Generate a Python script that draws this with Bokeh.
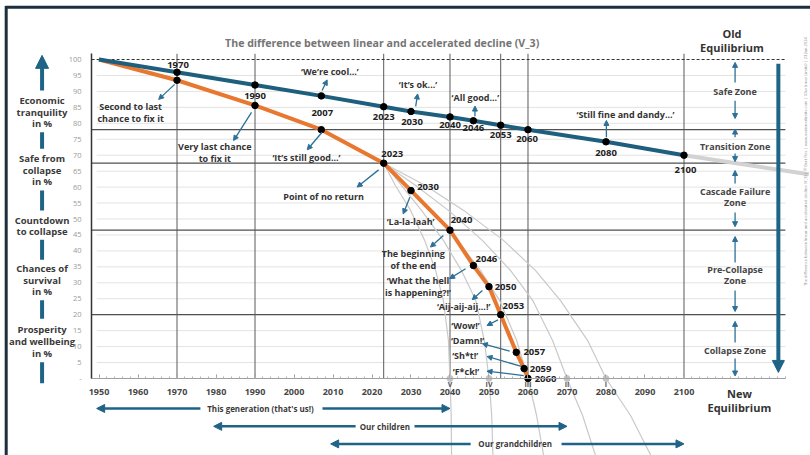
import math
from bokeh.plotting import figure
from bokeh.models import Arrow, NormalHead, LinearAxis, FixedTicker, Range1d
from bokeh.core.properties import value
from bokeh.embed import file_html
from bokeh.resources import INLINE

# ---------------- data ----------------
title_text = "The difference between linear and accelerated decline (V_3)"

linear_years = [1950, 1970, 1990, 2007, 2023, 2030, 2040, 2046, 2053, 2060, 2080, 2100]
linear_values = [100, 96, 92, 88.6, 85.2, 83.7, 82, 80.8, 79.4, 78, 74.2, 70]
linear_tail_years = [2100, 2132]
linear_tail_values = [70, 64]

accel_years = [1950, 1970, 1990, 2007, 2023, 2030, 2040, 2046, 2050, 2053, 2057, 2059, 2060]
accel_values = [100, 93.5, 85.6, 78, 67.5, 58.9, 46.5, 35.4, 28.8, 20, 8.2, 3.1, 0]

scenario_names = ["V", "IV", "III", "II", "I"]
scenario_end_years = [2040, 2050, 2060, 2070, 2080]
scenario_values = [67.5, 60.5, 52.7, 43.3, 33.9, 24.5, 11.9, 0, -11.6, -24.1]
scenario_V_years = [2023, 2026.0, 2029.9, 2033.5, 2036.3, 2038.3, 2039.6, 2040, 2040.3, 2040.4]
scenario_IV_years = [2023, 2027.6, 2032.7, 2038.3, 2042.9, 2046.6, 2048.8, 2050, 2050.7, 2051.0]
scenario_III_years = [2023, 2029.1, 2035.3, 2041.9, 2047.8, 2052.7, 2057.1, 2060, 2062.2, 2064.0]
scenario_II_years = [2023, 2031.2, 2039.6, 2048.3, 2055.5, 2061.2, 2066.3, 2070, 2074.0, 2077.3]
scenario_I_years = [2023, 2033.7, 2043.5, 2053.7, 2061.9, 2068.3, 2075.3, 2080, 2086.3, 2091.5]

y_ticks = [0, 5, 10, 15, 20, 25, 30, 35, 40, 45, 50, 55, 60, 65, 70, 75, 80, 85, 90, 95, 100]
y_tick_labels = {0: "-"}
x_ticks = [1950, 1960, 1970, 1980, 1990, 2000, 2010, 2020, 2030, 2040, 2050, 2060, 2070, 2080, 2090, 2100]
x_minor_ticks = list(range(1950, 2127, 2))

zone_levels = [78, 67.5, 46.5, 20]
milestone_years = [1970, 1990, 2023, 2040, 2053, 2060, 2100]

zone_names = ["Safe Zone", "Transition Zone", "Cascade Failure\nZone", "Pre-Collapse\nZone", "Collapse Zone"]
side_labels = ["Economic\ntranquility\nin %", "Safe from\ncollapse\nin %", "Countdown\nto collapse",
               "Chances of\nsurvival\nin %", "Prosperity\nand wellbeing\nin %"]

generation_labels = ["This generation (that's us!)", "Our children", "Our grandchildren"]
generation_start = [1950, 1980, 2010]
generation_end = [2040, 2070, 2100]

credit_text = ("The difference between linear and accelerated decline (V_3) | \u00a9 Bert Fles | "
               "www.ourinnerlimits.com | (Our Inner Limits) | 23-Jan-2024")

# ---------------- styles ----------------
FONT = "Open Sans"
BLUE = "#1f5f7e"
ORANGE = "#e8782f"
ARROW_BLUE = "#2d7095"
SIDE_BLUE = "#1f6386"
DARK = "#2e2e2e"
GRID = "#e3e3e3"
VLINE = "#5a5a5a"
CURVE = "#c9c9c9"
LH = 0.9

X0, X1 = 1924.74, 2132.44
Y0, Y1 = -24.14, 118.50
PLOT_L, PLOT_R, GRID_L = 1948.1, 2126.0, 1949.4

p = figure(width=810, height=455, x_range=Range1d(X0, X1), y_range=Range1d(Y0, Y1),
           output_backend="svg", toolbar_location=None, min_border=0,
           x_axis_location=None, y_axis_location=None)
p.outline_line_color = None
p.xgrid.visible = False
p.ygrid.visible = False


def add_text(xs, ys, texts, size, color=DARK, style="bold", align="center", baseline="middle",
             angle=0.0, line_height=LH, x_offset=0, y_offset=0):
    p.text(x=list(xs), y=list(ys), text=list(texts), text_font=value(FONT),
           text_font_size=value(size), text_font_style=style, text_color=color,
           text_align=align, text_baseline=baseline, angle=angle,
           text_line_height=line_height, x_offset=x_offset, y_offset=y_offset)


def add_arrow(x0, y0, x1, y1, color=ARROW_BLUE, width=1.3, head=5):
    p.add_layout(Arrow(x_start=x0, y_start=y0, x_end=x1, y_end=y1, line_color=color,
                       line_width=width,
                       end=NormalHead(size=head, fill_color=color, line_color=color, line_width=1)))


# outer border (top and left)
p.line([1926.0, X1], [116.4, 116.4], line_color="#1d2f3c", line_width=3)
p.line([1926.2, 1926.2], [Y0, 116.8], line_color="#1d2f3c", line_width=3)

# light grid
grid_levels = [v for v in y_ticks if 0 < v < 100]
p.segment(x0=GRID_L, y0=grid_levels, x1=PLOT_R, y1=grid_levels, line_color=GRID, line_width=1)

# zone lines and milestone verticals
p.segment(x0=PLOT_L, y0=zone_levels, x1=PLOT_R, y1=zone_levels, line_color="#505050", line_width=1.2)
p.segment(x0=milestone_years, y0=0, x1=milestone_years, y1=101.8, line_color=VLINE, line_width=1)
p.line([PLOT_L, PLOT_R], [100, 100], line_color="#333333", line_width=1, line_dash="3 2")

# scenario curves
for yrs in [scenario_V_years, scenario_IV_years, scenario_III_years, scenario_II_years, scenario_I_years]:
    p.line(yrs, scenario_values, line_color=CURVE, line_width=1.2)
p.scatter(scenario_end_years, [0] * len(scenario_end_years), size=6, color="#c4c4c4")

# linear tail
p.line(linear_tail_years, linear_tail_values, line_color="#d2d2d2", line_width=4)

# main lines
p.line(accel_years, accel_values, line_color=ORANGE, line_width=4)
p.line(linear_years, linear_values, line_color=BLUE, line_width=4)
p.scatter(linear_years[1:], linear_values[1:], size=6.5, color="black")
p.scatter(accel_years[1:], accel_values[1:], size=6.5, color="black")

# axes (inside the frame)
yax = LinearAxis(fixed_location=PLOT_L, bounds=(0, 101.8), ticker=FixedTicker(ticks=y_ticks),
                 major_label_overrides=y_tick_labels)
yax.axis_line_color = "#333333"
yax.axis_line_width = 1.5
yax.major_tick_line_color = None
yax.minor_tick_line_color = None
yax.major_label_text_font = FONT
yax.major_label_text_font_size = "7.5px"
yax.major_label_text_color = "#9a9a9a"
yax.major_label_standoff = 4
p.add_layout(yax, "left")

xax = LinearAxis(fixed_location=0, bounds=(PLOT_L, PLOT_R),
                 ticker=FixedTicker(ticks=x_ticks, minor_ticks=x_minor_ticks))
xax.axis_line_color = "#a0a0a0"
xax.axis_line_width = 1
xax.major_tick_in = 4
xax.major_tick_out = 0
xax.minor_tick_in = 2
xax.minor_tick_out = 0
xax.major_tick_line_color = "#a0a0a0"
xax.minor_tick_line_color = "#b0b0b0"
xax.major_label_text_font = FONT
xax.major_label_text_font_size = "9px"
xax.major_label_text_font_style = "bold"
xax.major_label_text_color = "#474747"
xax.major_label_standoff = 11
p.add_layout(xax, "below")

# roman numerals
add_text(scenario_end_years, [0] * 5, scenario_names, "7px", color="#555555", y_offset=6)

# year labels
add_text(linear_years[1:], linear_values[1:], [str(y) for y in linear_years[1:]], "9.5px", color="#222222",
         x_offset=[1, 0, 1, 0, 1, 0, 0, 0, -1, 0, 1.5],
         y_offset=[-7.5, 11, 17, 10.5, 10.5, 8, 7.5, 10, 9, 11, 15])
add_text(accel_years[4:], accel_values[4:], [str(y) for y in accel_years[4:]], "9.5px", color="#222222",
         x_offset=[8.5, 17, 11.5, 13, 16.5, 12.7, 18, 16.5, 17.5],
         y_offset=[-9, -3.3, -10, -6.7, 0, -9, 0, 0, 0.5])

# quotes / comments with arrows
quotes = [
    ("Second to last\nchance to fix it", 1958.1, 83.3, (1969.4, 92.2, 1965.3, 87.5)),
    ("Very last chance\nto fix it", 1979.7, 70.8, (1989.1, 83.4, 1984.5, 74.6)),
    ("\u2018We\u2019re cool...\u2019", 2009.2, 96.3, (2007.2, 90.3, 2008.5, 93.6)),
    ("\u2018It\u2019s ok...\u2019", 2031.8, 92.2, (2031.2, 85.3, 2031.7, 89.2)),
    ("\u2018All good...\u2019", 2046.5, 88.0, (2046.4, 82.2, 2046.4, 85.4)),
    ("\u2018Still fine and dandy...\u2019", 2085.0, 82.8, (2080.1, 75.6, 2080.1, 80.9)),
    ("\u2018It\u2019s still good...\u2019", 2003.2, 69.4, (2007.2, 77.2, 2003.4, 71.7)),
    ("Point of no return", 2007.6, 57.2, (2021.7, 65.4, 2016.2, 60.0)),
    ("\u2018La-la-laah\u2019", 2029.9, 49.3, (2029.7, 56.8, 2028.0, 51.6)),
    ("The beginning\nof the end", 2030.6, 37.4, (2038.3, 44.8, 2035.0, 41.2)),
    ("\u2018What the hell\nis happening?!\u2019", 2031.8, 28.8, (2044.0, 34.4, 2039.9, 31.3)),
    ("\u2018Aij-aij-aij...!\u2019", 2043.5, 22.7, (2048.3, 27.6, 2045.7, 24.7)),
    ("\u2018Wow!\u2019", 2044.0, 16.6, (2052.3, 18.4, 2049.5, 16.6)),
    ("\u2018Damn!\u2019", 2044.5, 11.9, (2055.3, 8.6, 2048.3, 10.9)),
    ("\u2018Sh*t!\u2019", 2043.9, 7.2, (2058.3, 3.8, 2049.5, 6.9)),
    ("\u2018F*ck!\u2019", 2044.1, 2.2, (2058.9, 0.9, 2049.5, 2.3)),
]
add_text([q[1] for q in quotes], [q[2] for q in quotes], [q[0] for q in quotes], "9px",
         color="#333333")
for q in quotes:
    add_arrow(*q[3])

# title and equilibrium labels
add_text([2022.6], [105.3], [title_text], "10.6px", color="#757575")
add_text([2112.3], [105.9], ["Old\nEquilibrium"], "11px", color="#333333", line_height=0.93)
add_text([2114.2], [-7.0], ["New\nEquilibrium"], "11px", color="#333333", line_height=0.93)

# right zone column
ZX = 2113.1
add_text([ZX] * 5, [90.0, 72.7, 56.9, 32.4, 8.8], zone_names, "9px", color="#454545")
for (a0, a1) in [(92.8, 99.1), (75.6, 78.2), (61.1, 65.2), (36.4, 44.5), (11.3, 17.9)]:
    add_arrow(ZX, a0, ZX, a1, width=1.3, head=5)
for (a0, a1) in [(87.1, 81.5), (70.5, 68.0), (52.0, 47.6), (27.6, 21.0), (6.3, 0.8)]:
    add_arrow(ZX, a0, ZX, a1, width=1.3, head=5)
add_arrow(2124.2, 98.7, 2124.2, 1.9, color=SIDE_BLUE, width=4, head=12)

# left descriptive column
LX = 1935.4
add_text([LX] * 5, [83.5, 65.3, 47.8, 30.8, 11.6], side_labels, "9.5px", color="#3a3a3a")
add_arrow(LX, 90.3, LX, 101.3, color=SIDE_BLUE, width=4, head=13)
p.segment(x0=LX, y0=[77.2, 58.9, 43.5, 24.5, 5.1], x1=LX, y1=[72.0, 52.7, 37.2, 18.7, -1.5],
          line_color=SIDE_BLUE, line_width=4)

# generation arrows
gen_y = [-9.4, -15.0, -20.5]
gen_center = [1991.4, 2023.3, 2056.7]
gen_half = [(15.4, 15.9), (7.5, 7.6), (11.4, 11.9)]
add_text(gen_center, gen_y, generation_labels, "8px", color="#3a3a3a")
for i in range(3):
    add_arrow(gen_center[i] - gen_half[i][0], gen_y[i], generation_start[i] - 0.6, gen_y[i],
              color=SIDE_BLUE, width=2.5, head=8)
    add_arrow(gen_center[i] + gen_half[i][1], gen_y[i], generation_end[i], gen_y[i],
              color=SIDE_BLUE, width=2.5, head=8)

# credit line (rotated)
add_text([2131.2], [68.0], [credit_text], "4px", color="#8a8a8a", style="normal", angle=math.pi / 2)

open("out.html", "w").write(file_html(p, INLINE))
